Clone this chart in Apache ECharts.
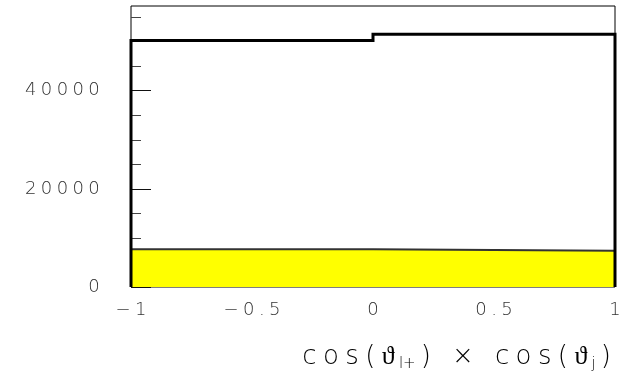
<!DOCTYPE html>
<html>
<head>
<meta charset="utf-8">
<script src="https://cdn.jsdelivr.net/npm/echarts@6/dist/echarts.min.js"></script>
<style>
  html, body { margin: 0; padding: 0; background: #fff; }
  #chart { width: 619px; height: 381px; }
</style>
</head>
<body>
<div id="chart"></div>
<script>
// histogram bins (edges) and contents
const binEdges = [-1, 0, 1]
const totalCounts = [50220, 51490]
const yellowCounts = [7700, 7380]
const xTicks = [-1, -0.5, 0, 0.5, 1]
const yMajorTicks = [0, 20000, 40000]
const yMinorTicks = [5000, 10000, 15000, 25000, 30000, 35000, 45000, 50000, 55000]
const yMax = 57250

const FONT = 'DejaVu Sans'
const TXT = '#333'

// wrap every char in its own rich token so the letters get ROOT-like spacing
function spread (str, style) {
  return str.split('').map(ch => '{' + style + '|' + ch + '}').join('')
}

// step outline of a histogram, optionally dropping to zero at both ends
function outline (edges, counts, dropEnds) {
  const pts = []
  if (dropEnds) pts.push([edges[0], 0])
  counts.forEach((c, i) => {
    pts.push([edges[i], c])
  })
  pts.push([edges[edges.length - 1], counts[counts.length - 1]])
  if (dropEnds) pts.push([edges[edges.length - 1], 0])
  return pts
}

const charStyle = { fontFamily: FONT, fontWeight: 300, fontSize: 18, color: TXT, padding: [0, 2.2] }

const chart = echarts.init(document.getElementById('chart'))
const option = {
  backgroundColor: '#fff',
  animation: false,
  grid: {
    left: 131,
    right: 4,
    top: 6,
    bottom: 94,
    outerBoundsMode: 'none',
    containLabel: false,
    show: true,
    borderColor: '#000',
    borderWidth: 1,
    backgroundColor: '#fff'
  },
  xAxis: {
    type: 'value',
    min: xTicks[0],
    max: xTicks[xTicks.length - 1],
    interval: 0.5,
    axisLine: { show: false, onZero: false },
    axisTick: { show: false },
    splitLine: { show: false },
    axisLabel: {
      margin: 14,
      formatter: v => spread(String(v).replace('-', '\u2212'), 'c'),
      rich: { c: charStyle }
    }
  },
  yAxis: [
    {
      type: 'value',
      min: 0,
      max: yMax,
      interval: 20000,
      position: 'left',
      axisLine: { show: false, onZero: false },
      splitLine: { show: false },
      axisTick: {
        show: true,
        inside: true,
        length: 20,
        customValues: yMajorTicks,
        lineStyle: { color: '#111', width: 1 }
      },
      axisLabel: {
        margin: 29,
        customValues: yMajorTicks,
        formatter: v => spread(String(v), 'c'),
        rich: { c: charStyle }
      }
    },
    {
      type: 'value',
      min: 0,
      max: yMax,
      position: 'left',
      axisLine: { show: false, onZero: false },
      splitLine: { show: false },
      axisLabel: { show: false },
      axisTick: {
        show: true,
        inside: true,
        length: 10,
        customValues: yMinorTicks,
        lineStyle: { color: '#444', width: 1 }
      }
    }
  ],
  graphic: [
    {
      type: 'text',
      right: 8,
      top: 344,
      style: {
        text: spread('cos(ϑ', 't') + '{s|l+}' + spread(') × cos(ϑ', 't') + '{s|j}' + spread(')', 't'),
        rich: {
          t: { fontFamily: FONT, fontWeight: 300, fontSize: 26, color: TXT, padding: [0, 3.2] },
          s: { fontFamily: FONT, fontWeight: 300, fontSize: 15, color: TXT, padding: [15, 2, 0, 1] }
        }
      }
    }
  ],
  series: [
    {
      name: 'yellow',
      type: 'line',
      step: 'end',
      data: outline(binEdges, yellowCounts, false),
      symbol: 'none',
      z: 2,
      lineStyle: { color: '#333', width: 2 },
      areaStyle: { color: '#ffff00', opacity: 1 }
    },
    {
      name: 'total',
      type: 'line',
      step: 'end',
      data: outline(binEdges, totalCounts, true),
      symbol: 'none',
      z: 3,
      lineStyle: { color: '#000', width: 3, join: 'miter' }
    }
  ]
}
chart.setOption(option)
</script>
</body>
</html>
